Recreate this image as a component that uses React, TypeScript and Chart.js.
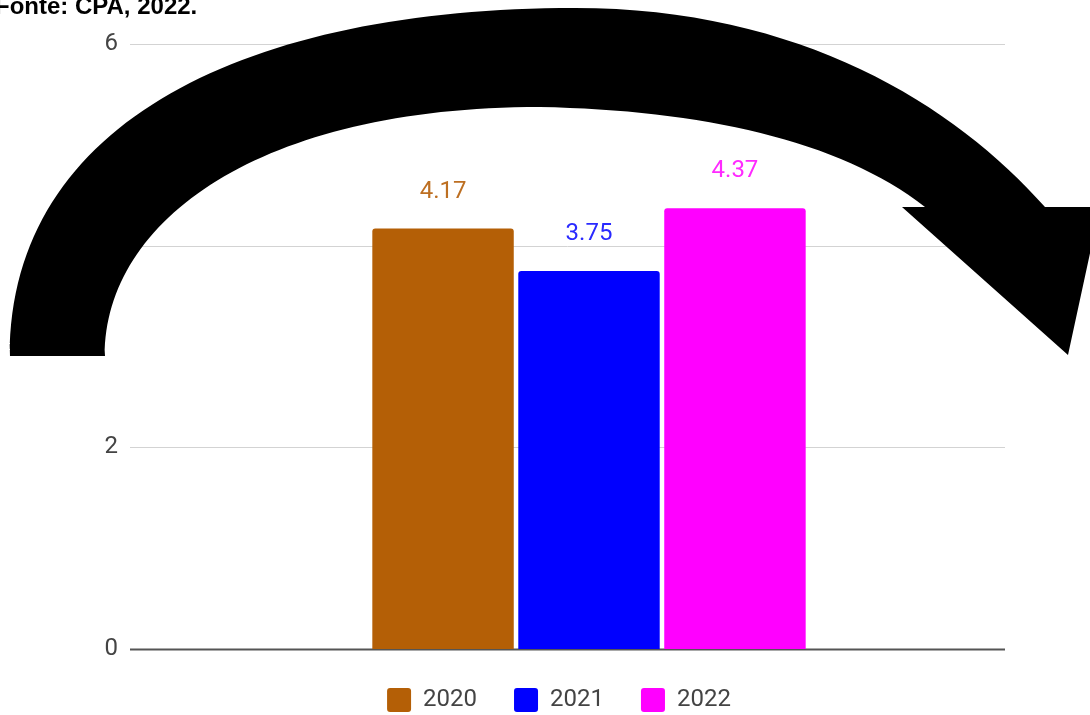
import React, { useEffect, useRef } from "react";
import { Chart, registerables } from "chart.js";

Chart.register(...registerables);

// ---- data ----
const categories = [""];
const seriesLabels = ["2020", "2021", "2022"];
const seriesValues = [4.17, 3.75, 4.37];
const seriesColors = ["#b45f06", "#0000ff", "#ff00ff"];
const labelColors = ["#bd6f22", "#2a2aff", "#ff2aff"];
const yTickValues = [0, 2, 4, 6];
const sourceNote = "Fonte: CPA, 2022.";

// ---- styling / layout constants ----
const W = 1090;
const H = 715;
const FONT = "Roboto, 'Liberation Sans', Arial, sans-serif";
const TEXT_GREY = "#444444";
const GRID_GREY = "#d3d3d3";
const BASE_GREY = "#555555";
const GRID_RIGHT_INSET = 43;
const LABEL_OFFSET = 37;
const LEGEND_PAD = 37;

// decorative arrow overlay (canvas pixels)
const arrowShape = {
  start: [10, 356],
  outerLeft: [[10, 120], [250, 8], [575, 8]],
  outerRight: [[800, 8], [955, 105], [1045, 207]],
  head: [[1100, 207], [1068, 355], [902, 207], [925, 207]],
  innerRight: [[840, 140], [700, 110], [540, 107]],
  innerLeft: [[260, 107], [105, 220], [105, 356]],
};

const gridPlugin = {
  id: "customGrid",
  beforeDatasetsDraw(chart: any) {
    const { ctx, chartArea } = chart;
    const ys = chart.scales.y;
    const right = chartArea.right - GRID_RIGHT_INSET;
    ctx.save();
    yTickValues.forEach((v) => {
      const py = Math.round(ys.getPixelForValue(v)) + 0.5;
      ctx.beginPath();
      ctx.strokeStyle = v === 0 ? BASE_GREY : GRID_GREY;
      ctx.lineWidth = v === 0 ? 2 : 1;
      ctx.moveTo(chartArea.left, py);
      ctx.lineTo(right, py);
      ctx.stroke();
    });
    ctx.restore();
  },
};

const valueLabelPlugin = {
  id: "valueLabels",
  afterDatasetsDraw(chart: any) {
    const { ctx } = chart;
    ctx.save();
    ctx.font = `24px ${FONT}`;
    ctx.textAlign = "center";
    ctx.textBaseline = "middle";
    chart.data.datasets.forEach((ds: any, i: number) => {
      const meta = chart.getDatasetMeta(i);
      meta.data.forEach((el: any, j: number) => {
        ctx.fillStyle = labelColors[i];
        ctx.fillText(Number(ds.data[j]).toFixed(2), el.x, el.y - LABEL_OFFSET);
      });
    });
    ctx.restore();
  },
};

const arrowPlugin = {
  id: "arrowOverlay",
  afterDraw(chart: any) {
    const { ctx } = chart;
    const a = arrowShape;
    ctx.save();
    ctx.fillStyle = "#000000";
    ctx.beginPath();
    ctx.moveTo(a.start[0], a.start[1]);
    ctx.bezierCurveTo(a.outerLeft[0][0], a.outerLeft[0][1], a.outerLeft[1][0], a.outerLeft[1][1], a.outerLeft[2][0], a.outerLeft[2][1]);
    ctx.bezierCurveTo(a.outerRight[0][0], a.outerRight[0][1], a.outerRight[1][0], a.outerRight[1][1], a.outerRight[2][0], a.outerRight[2][1]);
    a.head.forEach((p) => ctx.lineTo(p[0], p[1]));
    ctx.bezierCurveTo(a.innerRight[0][0], a.innerRight[0][1], a.innerRight[1][0], a.innerRight[1][1], a.innerRight[2][0], a.innerRight[2][1]);
    ctx.bezierCurveTo(a.innerLeft[0][0], a.innerLeft[0][1], a.innerLeft[1][0], a.innerLeft[1][1], a.innerLeft[2][0], a.innerLeft[2][1]);
    ctx.closePath();
    ctx.fill();
    ctx.restore();
  },
};

export default function App() {
  const canvasRef = useRef<HTMLCanvasElement | null>(null);

  useEffect(() => {
    if (!canvasRef.current) return;
    const chart = new Chart(canvasRef.current, {
      type: "bar",
      data: {
        labels: categories,
        datasets: seriesLabels.map((label, i) => ({
          label,
          data: [seriesValues[i]],
          backgroundColor: seriesColors[i],
          borderColor: seriesColors[i],
          borderWidth: 0,
          borderRadius: { topLeft: 3, topRight: 3, bottomLeft: 0, bottomRight: 0 },
          borderSkipped: false,
          categoryPercentage: 0.477,
          barPercentage: 0.969,
        })),
      },
      options: {
        responsive: false,
        animation: false,
        devicePixelRatio: 1,
        layout: { padding: { top: 44, left: 70, right: 42, bottom: -7 } },
        plugins: {
          legend: {
            position: "bottom",
            labels: {
              boxWidth: 24,
              boxHeight: 24,
              padding: LEGEND_PAD,
              color: TEXT_GREY,
              font: { family: FONT, size: 24 },
              useBorderRadius: true,
              borderRadius: 3,
            },
          },
          tooltip: { enabled: false },
          title: { display: false },
        },
        scales: {
          x: {
            type: "category",
            offset: true,
            grid: { display: false, drawTicks: false },
            border: { display: false },
            ticks: { display: false },
            afterFit: (scale: any) => {
              scale.height = 2;
            },
          },
          y: {
            min: 0,
            max: 6,
            grid: { display: false, drawTicks: false },
            border: { display: false },
            ticks: {
              stepSize: 2,
              padding: 12,
              color: TEXT_GREY,
              font: { family: FONT, size: 24 },
            },
            afterFit: (scale: any) => {
              scale.width = 60;
            },
          },
        },
      },
      plugins: [gridPlugin, valueLabelPlugin, arrowPlugin],
    } as any);
    return () => chart.destroy();
  }, []);

  return (
    <div style={{ position: "fixed", left: 0, top: 0, width: W, height: H, overflow: "hidden", background: "#ffffff" }}>
      <canvas ref={canvasRef} width={W} height={H} style={{ display: "block", width: W, height: H }} />
      <div
        style={{
          position: "absolute",
          left: -5,
          top: -6,
          fontFamily: "'Liberation Sans', Arial, sans-serif",
          fontWeight: "bold",
          fontSize: 24,
          lineHeight: "24px",
          color: "#000000",
          whiteSpace: "nowrap",
        }}
      >
        {sourceNote}
      </div>
    </div>
  );
}
